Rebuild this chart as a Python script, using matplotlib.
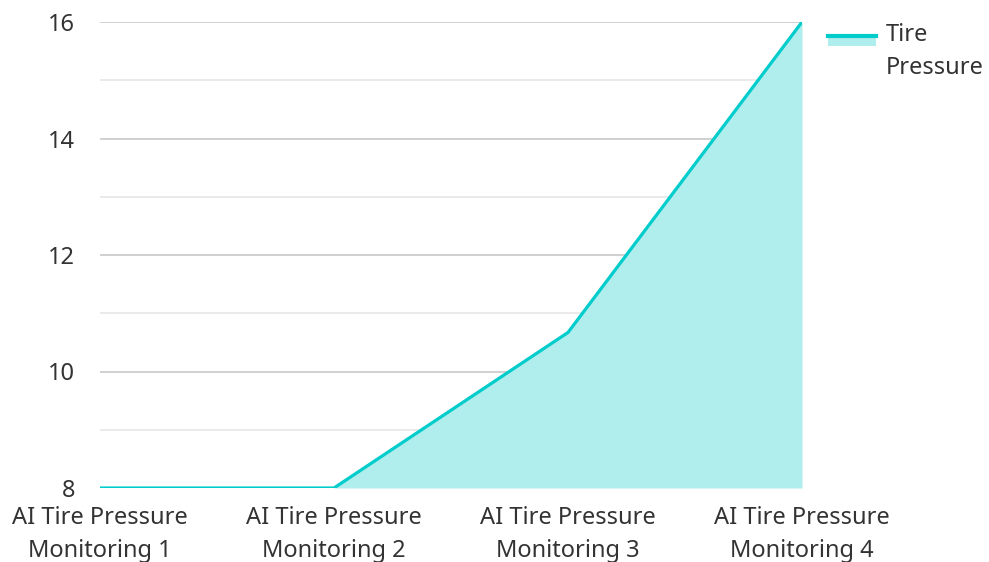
import matplotlib
matplotlib.use("Agg")
import matplotlib.pyplot as plt
from matplotlib.patches import Rectangle
from matplotlib.lines import Line2D

categories = ["AI Tire Pressure\nMonitoring 1", "AI Tire Pressure\nMonitoring 2",
              "AI Tire Pressure\nMonitoring 3", "AI Tire Pressure\nMonitoring 4"]
values = [8, 8, 10.67, 16]
series_name = "Tire\nPressure"
yticks = [8, 10, 12, 14, 16]
minor_yticks = [9, 11, 13, 15]

plt.rcParams['font.family'] = ['Noto Sans', 'DejaVu Sans']
text_color = "#333333"
line_color = "#00CCCC"
fill_color = "#B0EEEE"
FS = 17

W, H = 989, 562
fig = plt.figure(figsize=(W / 100, H / 100), dpi=100)
ax = fig.add_axes([100 / W, 1 - 488 / H, 702 / W, 466 / H])

x = list(range(len(categories)))
ax.fill_between(x, values, 8, color=fill_color, linewidth=0, zorder=2)
ax.plot(x, values, color=line_color, linewidth=2.3, zorder=3, solid_capstyle='round')

ax.set_xlim(0, len(categories) - 1)
ax.set_ylim(8, 16)
ax.set_yticks(yticks)
ax.set_yticks(minor_yticks, minor=True)
ax.set_xticks(x)
ax.set_xticklabels(categories, linespacing=1.5)
ax.grid(axis='y', which='major', color='#c8c8c8', linewidth=1.2, zorder=1)
ax.grid(axis='y', which='minor', color='#e6e6e6', linewidth=1.2, zorder=1)
for s in ax.spines.values():
    s.set_visible(False)
ax.tick_params(axis='both', which='both', length=0, labelsize=FS, colors=text_color)
ax.tick_params(axis='y', pad=18)
ax.tick_params(axis='x', pad=13)

# legend (drawn in figure pixel coordinates)
def fx(px):
    return px / W

def fy(py):
    return 1 - py / H

fig.patches.append(Rectangle((fx(828), fy(46)), fx(876) - fx(828), fy(35) - fy(46),
                             transform=fig.transFigure, facecolor=fill_color,
                             edgecolor='none'))
fig.lines.append(Line2D([fx(828), fx(876)], [fy(36), fy(36)], transform=fig.transFigure,
                        color=line_color, linewidth=3))
fig.text(fx(886), fy(23), series_name, ha='left', va='top', fontsize=FS,
         color=text_color, linespacing=1.5)

fig.savefig("out.png", dpi=100)
